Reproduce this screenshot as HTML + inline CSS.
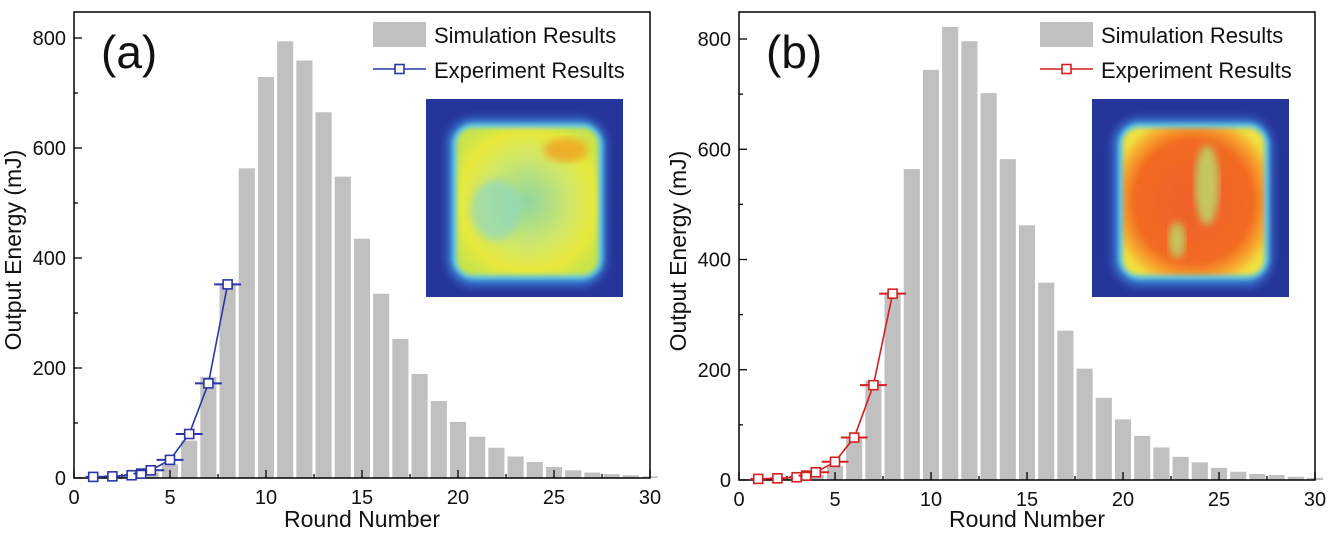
<!DOCTYPE html>
<html><head><meta charset="utf-8"><style>
html,body{margin:0;padding:0;background:#fff;width:1329px;height:533px;overflow:hidden}
svg{display:block;font-family:"Liberation Sans",Arial,sans-serif}
</style></head><body>
<svg id="chart" width="1329" height="533" viewBox="0 0 1329 533">
<defs>
<radialGradient id="gA" cx="50%" cy="50%" r="60%">
<stop offset="0" stop-color="#8fd6a0"/><stop offset="0.5" stop-color="#cfe66a"/><stop offset="0.8" stop-color="#e8e83a"/><stop offset="1" stop-color="#c9e44a"/>
</radialGradient>
<radialGradient id="gB" cx="50%" cy="50%" r="60%">
<stop offset="0" stop-color="#f0602a"/><stop offset="0.7" stop-color="#f26a22"/><stop offset="0.9" stop-color="#f7b030"/><stop offset="1" stop-color="#f0e040"/>
</radialGradient>
<filter id="blur"><feGaussianBlur stdDeviation="4"/></filter>
<filter id="blur2"><feGaussianBlur stdDeviation="2"/></filter>
</defs>
</svg>
<script>
const rounds = [1,2,3,4,5,6,7,8,9,10,11,12,13,14,15,16,17,18,19,20,21,22,23,24,25,26,27,28,29,30];
const simA = [1,2,4,10,25,68,184,350,563,729,794,759,665,548,435,335,253,189,140,102,75,55,39,29,20,14,10,7,5,3];
const simB = [1,2,4,10,25,75,180,340,564,744,822,796,702,582,462,358,271,202,149,110,80,59,42,32,22,15,11,9,6,4];
const expX = [1,2,3,3.5,4,5,6,7,8];
const expA = [2,3,5,8,14,33,80,172,352];
const expB = [2,3,5,8,14,33,77,172,338];
const expErr = [0.4,0.4,0.4,0.4,0.7,0.7,0.7,0.7,0.7];
const xTicks = [0,5,10,15,20,25,30];
const yTicks = [0,200,400,600,800];

const svg = document.getElementById('chart');
const NS = 'http://www.w3.org/2000/svg';
function mk(tag, attrs, parent){const e=document.createElementNS(NS,tag);for(const k in attrs)e.setAttribute(k,attrs[k]);(parent||svg).appendChild(e);return e;}

function panel(cfg){
  const g = mk('g',{});
  
  
  const L=cfg.x0, R=cfg.x1, T=cfg.top, B=cfg.y0, Y800=cfg.y800;
  const xs = v => L + (R-L)*v/30;
  const ys = v => B - (B-Y800)*v/800;
  rounds.forEach((r,i)=>{
    const b = mk('rect',{x:xs(r-0.42),y:ys(cfg.sim[i]),width:xs(0.84)-xs(0),height:B-ys(cfg.sim[i]),fill:'#c0c0c0'},g);
    
    
  });
  const ins = mk('g',{},g);
  
  
  mk('rect',{x:cfg.ix,y:99,width:197,height:198,fill:'#26359a'},ins);
  mk('rect',{x:cfg.ix+20,y:117,width:161,height:170,rx:28,fill:'#3570c8',filter:'url(#blur)'},ins);
  mk('rect',{x:cfg.ix+26,y:123,width:151,height:157,rx:22,fill:'#60c8e0',filter:'url(#blur2)'},ins);
  mk('rect',{x:cfg.ix+31,y:128,width:141,height:147,rx:16,fill:cfg.grad,filter:'url(#blur2)'},ins);
  if(cfg.id==='a'){
    mk('ellipse',{cx:cfg.ix+140,cy:150,rx:22,ry:12,fill:'#f0a020',opacity:0.8,filter:'url(#blur)'},ins);
    mk('ellipse',{cx:cfg.ix+70,cy:210,rx:25,ry:30,fill:'#90d8c0',opacity:0.7,filter:'url(#blur)'},ins);
  } else {
    mk('ellipse',{cx:cfg.ix+115,cy:185,rx:12,ry:40,fill:'#b8e070',opacity:0.8,filter:'url(#blur)'},ins);
    mk('ellipse',{cx:cfg.ix+85,cy:240,rx:8,ry:18,fill:'#b8e070',opacity:0.8,filter:'url(#blur)'},ins);
  }
  const f = mk('rect',{x:L,y:T,width:R-L,height:B-T,fill:'none',stroke:'#000','stroke-width':1.5},g);
  
  
  for(let v=0; v<=30; v+=2.5){
    const len = (v%5===0)?8:4;
    mk('line',{x1:xs(v),x2:xs(v),y1:B,y2:B-len,stroke:'#000','stroke-width':1.3},g);
  }
  xTicks.forEach(v=>{
    const t = mk('text',{x:xs(v),y:B+26,'font-size':20,'text-anchor':'middle',fill:'#111'},g);
    t.textContent=v;
    
    
  });
  for(let v=0; v<=800; v+=100){
    const len = (v%200===0)?8:4;
    mk('line',{x1:L,x2:L+len,y1:ys(v),y2:ys(v),stroke:'#000','stroke-width':1.3},g);
  }
  yTicks.forEach(v=>{
    const t = mk('text',{x:L-8,y:ys(v)+7,'font-size':20,'text-anchor':'end',fill:'#111'},g);
    t.textContent=v;
    
    
  });
  const xt = mk('text',{x:(L+R)/2,y:527,'font-size':23,'text-anchor':'middle',fill:'#111'},g);
  xt.textContent='Round Number';
  
  
  const yt = mk('text',{x:0,y:0,'font-size':23,'text-anchor':'middle',fill:'#111',transform:`translate(${L-53},${(T+B)/2+5}) rotate(-90)`},g);
  yt.textContent='Output Energy (mJ)';
  
  
  const pl = mk('text',{x:L+27,y:68,'font-size':46,fill:'#111'},g);
  pl.textContent='('+cfg.id+')';
  
  
  const pts = expX.map((x,i)=>xs(x)+','+ys(cfg.exp[i])).join(' ');
  const line = mk('polyline',{points:pts,fill:'none',stroke:cfg.color,'stroke-width':1.6},g);
  
  
  expX.forEach((x,i)=>{
    const y=ys(cfg.exp[i]);
    mk('line',{x1:xs(x-expErr[i]),x2:xs(x+expErr[i]),y1:y,y2:y,stroke:cfg.color,'stroke-width':2},g);
    const m = mk('rect',{x:xs(x)-4.5,y:y-4.5,width:9,height:9,fill:'#fff',stroke:cfg.color,'stroke-width':1.6},g);
    
    
  });
  const lg = mk('g',{},g);
  
  
  mk('rect',{x:cfg.lx,y:22,width:53,height:25,fill:'#c0c0c0'},lg);
  const l1 = mk('text',{x:cfg.lx+61,y:43,'font-size':22,fill:'#111'},lg);
  l1.textContent='Simulation Results';
  mk('line',{x1:cfg.lx,x2:cfg.lx+53,y1:69,y2:69,stroke:cfg.color,'stroke-width':1.6},lg);
  mk('rect',{x:cfg.lx+22,y:64.5,width:9,height:9,fill:'#fff',stroke:cfg.color,'stroke-width':1.6},lg);
  const l2 = mk('text',{x:cfg.lx+61,y:78,'font-size':22,fill:'#111'},lg);
  l2.textContent='Experiment Results';
}
panel({id:'a',x0:74,x1:650,top:12,y0:478,y800:38,sim:simA,exp:expA,color:'#2a35a8',ix:426,lx:373,grad:'url(#gA)'});
panel({id:'b',x0:739,x1:1315,top:12,y0:480,y800:39,sim:simB,exp:expB,color:'#d42020',ix:1092,lx:1040,grad:'url(#gB)'});
</script>
</body></html>
